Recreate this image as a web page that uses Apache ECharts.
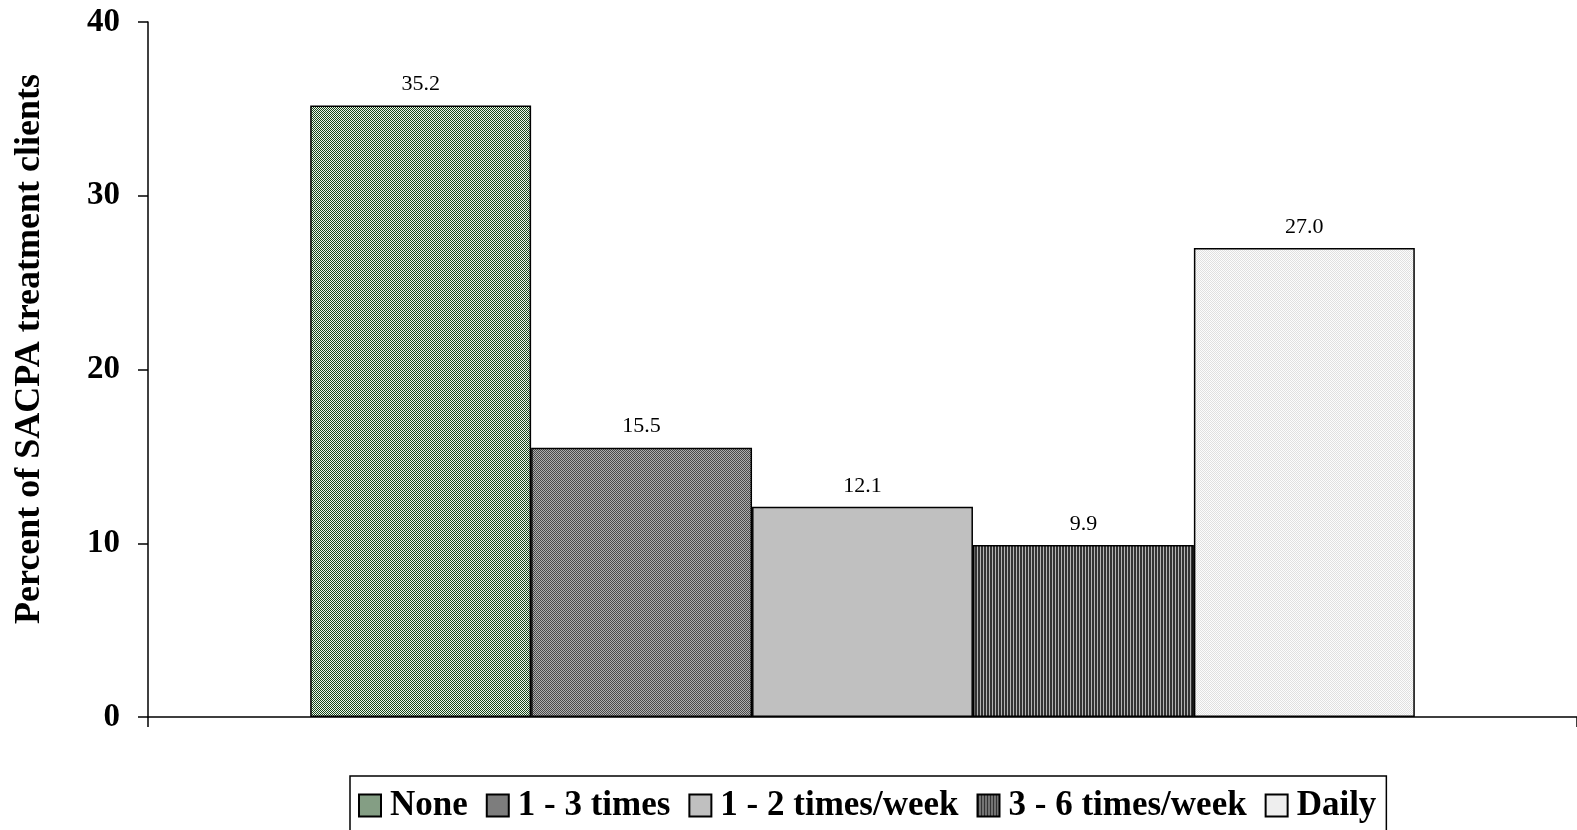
<!DOCTYPE html>
<html><head><meta charset="utf-8">
<script src="https://cdn.jsdelivr.net/npm/echarts@6/dist/echarts.min.js"></script>
<style>html,body{margin:0;padding:0;background:#fff}#c{width:1577px;height:830px}</style>
</head><body><div id="c"></div>
<script>
var categories = ['Frequency'];
var seriesNames = ['None', '1 - 3 times', '1 - 2 times/week', '3 - 6 times/week', 'Daily'];
var values = [35.2, 15.5, 12.1, 9.9, 27.0];
var yTicks = [0, 10, 20, 30, 40];
var yTitle = 'Percent of SACPA treatment clients';

function pat(w, h, draw) {
  var c = document.createElement('canvas'); c.width = w; c.height = h;
  var g = c.getContext('2d'); draw(g);
  return { image: c, repeat: 'repeat' };
}
function checker(a, b) {
  return pat(2, 2, function (g) {
    g.fillStyle = b; g.fillRect(0, 0, 2, 2);
    g.fillStyle = a; g.fillRect(0, 0, 1, 1); g.fillRect(1, 1, 1, 1);
  });
}
var fills = [
  checker('#1a461a', '#eef6ee'),
  checker('#4a4a4a', '#b0b0b0'),
  '#c0c0c0',
  pat(3, 1, function (g) { g.fillStyle = '#333333'; g.fillRect(0, 0, 3, 1); g.fillStyle = '#b4b4b4'; g.fillRect(2, 0, 1, 1); }),
  checker('#e0e0e0', '#fcfcfc')
];

var series = seriesNames.map(function (n, i) {
  return {
    name: n, type: 'bar', data: [values[i]],
    barGap: '0%', barCategoryGap: '22.7%',
    itemStyle: { color: fills[i], borderColor: '#000', borderWidth: 1.5 },
    label: { show: true, position: 'top', distance: 10, formatter: function (p) { return p.value.toFixed(1); },
      fontFamily: 'Liberation Serif', fontSize: 22, color: '#000' }
  };
});

var chart = echarts.init(document.getElementById('c'), null, { renderer: 'canvas' });
chart.setOption({
  animation: false,
  grid: { left: 148, right: 0, top: 22, bottom: 113, containLabel: false },
  graphic: [{ type: 'text', rotation: Math.PI / 2, x: 30, y: 349,
    style: { text: yTitle, font: 'bold 36px "Liberation Serif"', fill: '#000', align: 'center', verticalAlign: 'middle' } }],
  xAxis: { type: 'category', data: categories,
    axisLine: { lineStyle: { color: '#000', width: 1.5 } },
    axisTick: { show: true, length: 10, lineStyle: { color: '#000', width: 1.5 } },
    axisLabel: { show: false } },
  yAxis: { type: 'value', min: yTicks[0], max: yTicks[yTicks.length - 1], interval: 10,
    axisLine: { show: true, lineStyle: { color: '#000', width: 1.5 } },
    axisTick: { show: true, length: 10, lineStyle: { color: '#000', width: 1.5 } },
    splitLine: { show: false },
    axisLabel: { margin: 28, fontFamily: 'Liberation Serif', fontWeight: 'bold', fontSize: 33, color: '#000' } },
  legend: { bottom: -9, left: 350, data: seriesNames, icon: 'rect',
    borderColor: '#000', borderWidth: 1.5, padding: [12, 10, 16, 8],
    itemWidth: 22, itemHeight: 22, itemGap: 18,
    textStyle: { fontFamily: 'Liberation Serif', fontWeight: 'bold', fontSize: 35, color: '#000', padding: [0, 0, 0, 4] } },
  series: series
});
</script></body></html>
